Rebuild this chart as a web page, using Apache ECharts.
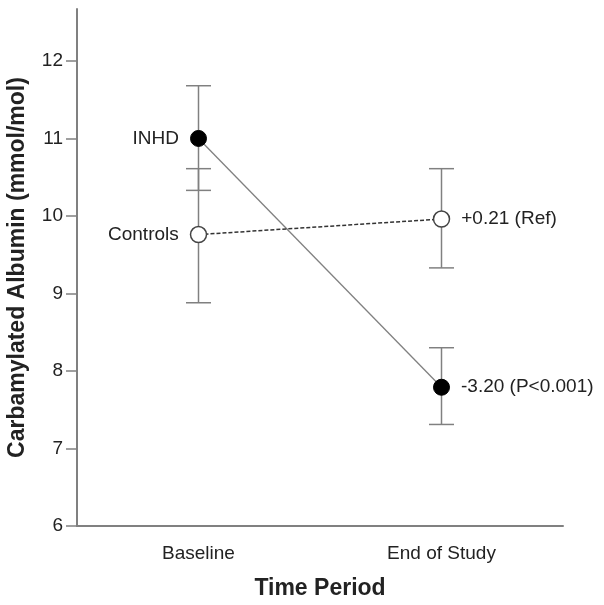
<!DOCTYPE html>
<html>
<head>
<meta charset="utf-8">
<script src="https://cdn.jsdelivr.net/npm/echarts@6/dist/echarts.min.js"></script>
<style>
html,body{margin:0;padding:0;background:#fff;}
#chart{width:604px;height:605px;}
</style>
</head>
<body>
<div id="chart"></div>
<script>
var categories = ['Baseline', 'End of Study'];
var inhdMean = [11.0, 7.79];
var inhdLow = [10.33, 7.31];
var inhdHigh = [11.68, 8.30];
var ctrlMean = [9.76, 9.96];
var ctrlLow = [8.88, 9.33];
var ctrlHigh = [10.61, 10.61];
var yTicks = [6, 7, 8, 9, 10, 11, 12];
var inhdLabels = ['INHD', '-3.20 (P<0.001)'];
var ctrlLabels = ['Controls', '+0.21 (Ref)'];

var FONT = 'Liberation Sans, Arial, sans-serif';
var errData = [];
for (var i = 0; i < categories.length; i++) {
  errData.push([i, inhdLow[i], inhdHigh[i]]);
  errData.push([i, ctrlLow[i], ctrlHigh[i]]);
}

function mkData(vals, labels) {
  return vals.map(function (v, i) {
    return {
      value: v,
      label: {
        show: true,
        formatter: labels[i],
        position: i === 0 ? 'left' : 'right',
        distance: 11,
        color: '#222',
        fontSize: 19,
        fontFamily: FONT
      }
    };
  });
}

var chart = echarts.init(document.getElementById('chart'));
chart.setOption({
  animation: false,
  grid: { left: 77, right: 41, top: 9, bottom: 79, outerBoundsMode: 'none', containLabel: false },
  xAxis: {
    type: 'category',
    data: categories,
    boundaryGap: true,
    name: 'Time Period',
    nameLocation: 'middle',
    nameGap: 51,
    nameTextStyle: { fontSize: 23, fontWeight: 'bold', color: '#222', fontFamily: FONT },
    axisLine: { lineStyle: { color: '#808080', width: 2 } },
    axisTick: { alignWithLabel: true, length: 12, lineStyle: { color: '#808080', width: 1.5 } },
    axisLabel: { fontSize: 19, color: '#222', margin: 18, fontFamily: FONT },
    splitLine: { show: false }
  },
  yAxis: {
    type: 'value',
    min: 6,
    max: 12.67,
    interval: 1,
    name: 'Carbamylated Albumin (mmol/mol)',
    nameLocation: 'middle',
    nameGap: 48,
    nameTextStyle: { fontSize: 23, fontWeight: 'bold', color: '#222', fontFamily: FONT },
    axisLine: { show: true, lineStyle: { color: '#808080', width: 2 } },
    axisTick: { show: true, length: 11, customValues: yTicks, lineStyle: { color: '#808080', width: 1.5 } },
    axisLabel: { fontSize: 19, color: '#222', margin: 14, customValues: yTicks, fontFamily: FONT },
    splitLine: { show: false }
  },
  series: [
    {
      type: 'custom',
      z: 1,
      data: errData,
      renderItem: function (params, api) {
        var x = api.value(0);
        var lo = api.coord([x, api.value(1)]);
        var hi = api.coord([x, api.value(2)]);
        var hw = 12.5;
        var st = { stroke: '#808080', lineWidth: 1.5 };
        return {
          type: 'group',
          children: [
            { type: 'line', shape: { x1: lo[0], y1: lo[1], x2: hi[0], y2: hi[1] }, style: st },
            { type: 'line', shape: { x1: lo[0] - hw, y1: lo[1], x2: lo[0] + hw, y2: lo[1] }, style: st },
            { type: 'line', shape: { x1: hi[0] - hw, y1: hi[1], x2: hi[0] + hw, y2: hi[1] }, style: st }
          ]
        };
      }
    },
    {
      type: 'line',
      name: 'INHD',
      z: 3,
      data: mkData(inhdMean, inhdLabels),
      symbol: 'circle',
      symbolSize: 16,
      lineStyle: { color: '#808080', width: 1.3, type: 'solid' },
      itemStyle: { color: '#000', borderColor: '#000', borderWidth: 1 }
    },
    {
      type: 'line',
      name: 'Controls',
      z: 3,
      data: mkData(ctrlMean, ctrlLabels),
      symbol: 'circle',
      symbolSize: 16,
      lineStyle: { color: '#333', width: 1.5, type: [4, 2] },
      itemStyle: { color: '#fff', borderColor: '#444', borderWidth: 1.5 }
    }
  ]
});
</script>
</body>
</html>
